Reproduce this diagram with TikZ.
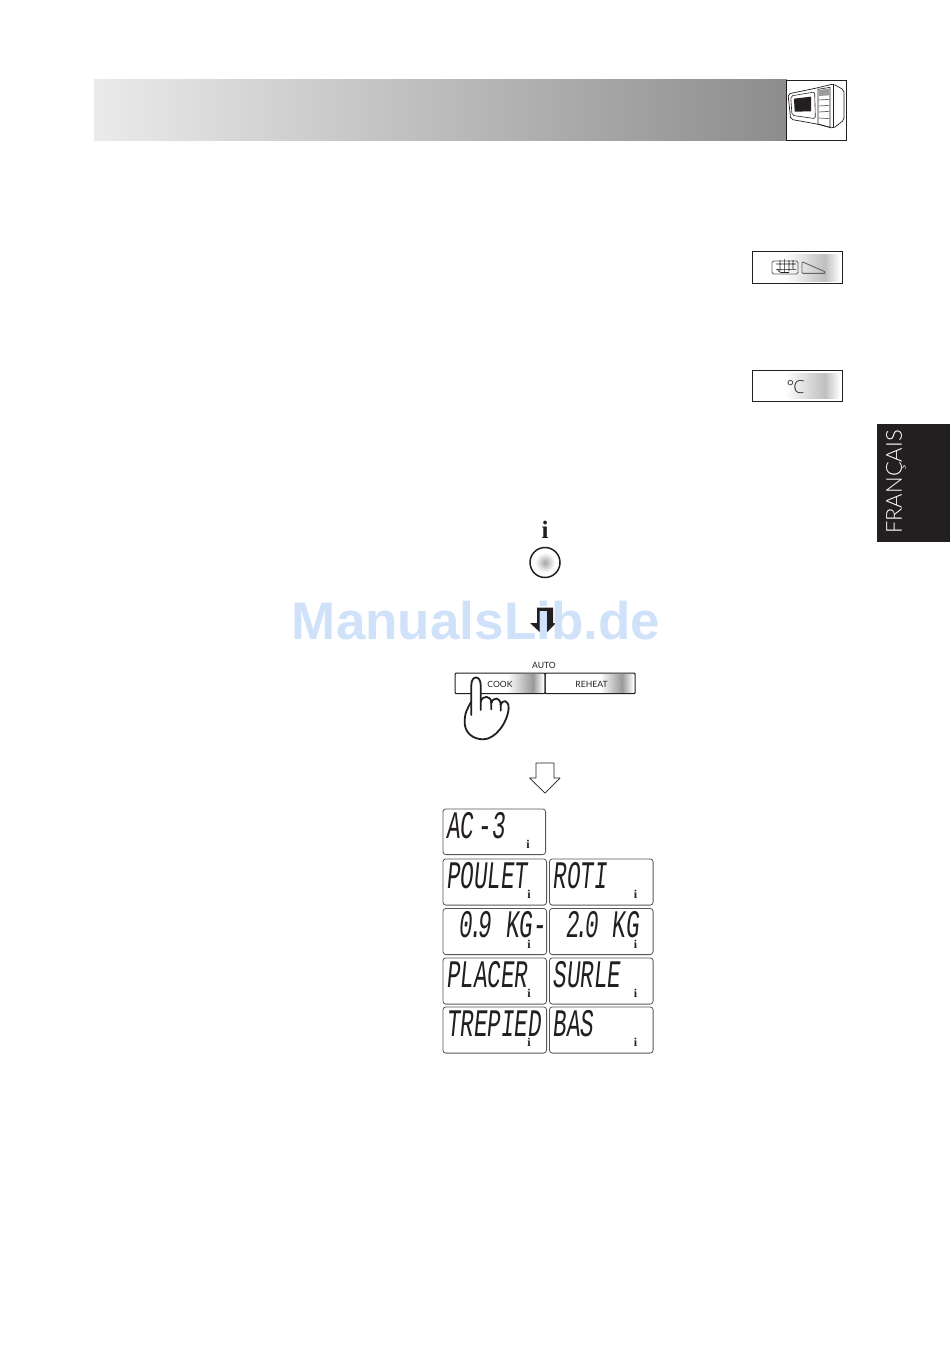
\documentclass[tikz,border=0pt]{standalone}
\usepackage{fontspec}
\setmainfont{Liberation Sans}
\newfontfamily\lcdfont{Liberation Mono}
\newfontfamily\capsfont{Lato}
\newfontfamily\thinfont{Open Sans Light}
\newfontfamily\langfont{Lato Light}
\newfontfamily\infofont{Liberation Serif}
\usetikzlibrary{calc}
\definecolor{inkk}{HTML}{231F20}
\definecolor{wm}{HTML}{CFE2FA}
\tikzset{
  panelbox/.style={draw=inkk,line width=0.9pt,fill=white},
  lcdbox/.style={draw=inkk!75,line width=0.8pt,rounded corners=3pt,fill=white},
  lcdtext/.style={font=\lcdfont\fontsize{39}{39}\selectfont,text=inkk,anchor=base west,inner sep=0pt,
     cm={0.58,0,0.1,1,(0,0)}},
  infoglyph/.style={font=\infofont\bfseries\fontsize{12}{12}\selectfont,text=inkk,inner sep=0pt},
  btnlabel/.style={font=\capsfont\fontsize{8.6}{9}\selectfont,text=inkk,inner sep=0pt},
  thinline/.style={draw=inkk,line width=0.7pt,line join=round},
  handline/.style={draw=inkk,line width=1.8pt,line cap=round,line join=round},
  keybox/.style={draw=inkk,line width=1.2pt,rounded corners=1pt,inner sep=0pt,minimum height=20.5pt,anchor=north west},
  zoomA/.style={shift={(770,70)},x=0.3333pt,y=-0.3333pt},
  zoomB/.style={shift={(450,660)},x=0.3333pt,y=-0.3333pt}
}
\newcommand{\lcddot}{\kern-7pt.\kern-7pt}
\newcommand{\lcdpanel}[6]{% name,x0,y0,x1,y1,text
  \node[lcdbox,minimum width=#4pt-#2pt-0.8pt,minimum height=#5pt-#3pt-0.8pt,inner sep=0pt,anchor=north west] (#1) at (#2,#3) {};
  \node[lcdtext] (#1t) at ($(#2,#3)+(3.5,29.5)$) {#6};
  \node[infoglyph] (#1i) at ($(#4,#5)+(-18,-11)$) {i};
}
\begin{document}
\begin{tikzpicture}[x=1pt,y=-1pt]
\useasboundingbox (0,0) rectangle (950,1348);
\fill[white] (0,0) rectangle (950,1348);
% header band
\shade[left color=black!8,right color=black!45,shading angle=90] (94,80) rectangle (787,140.5);
\node[panelbox,minimum width=60pt,minimum height=60pt,inner sep=0pt,anchor=north west] (oven) at (786,80) {};
\begin{scope}[zoomA]
 \draw[inkk,line width=0.7pt,line join=round,rounded corners=2pt] (54,72) -- (140,54) -- (190,42) -- (222,60) -- (222,150) -- (190,175) -- (140,162) -- (62,148) -- cycle;
 \draw[inkk,line width=0.6pt] (190,42)--(190,175);
 \draw[inkk,line width=0.6pt] (144,58) -- (180,52) -- (180,172) -- (144,162) -- cycle;
 \fill[inkk!45] (147,60) -- (178,56) -- (178,76) -- (147,78) -- cycle;
 \draw[inkk!70,line width=0.7pt] (147,90)--(178,88) (147,108)--(178,106) (147,126)--(178,124) (147,144)--(178,146);
 \draw[inkk,line width=0.6pt,rounded corners=2pt] (62,78)--(134,66)--(136,146)--(66,136)--cycle;
 \fill[inkk] (72,86)--(123,80)--(123,124)--(74,125)--cycle;
\end{scope}
% side buttons
\node[panelbox,minimum width=90pt,minimum height=32pt,inner sep=0pt,anchor=north west] (rackbtn) at (752,251) {};
\shade[left color=white,right color=black!25] (785,254.5) rectangle (825,281);
\shade[left color=black!25,right color=white] (825,254.5) rectangle (840,281);
\draw[inkk!70,line width=0.9pt,rounded corners=1.5pt] (772,261) rectangle (798,274);
\draw[inkk,line width=0.6pt] (780,260)--(780,271) (784.3,259)--(784.3,272) (789,260)--(789,271) (793,260)--(793,269) (776,264)--(796,264) (776,269.3)--(796,269.3) (777.5,269.3) .. controls (779,272) .. (781,272.5) -- (789,272.5);
\draw[inkk!70,line width=0.9pt,rounded corners=1pt] (802,261.7) -- (825,271.7) -- (825,273.3) -- (802,273.3) -- cycle;
\node[panelbox,minimum width=90pt,minimum height=31pt,inner sep=0pt,anchor=north west] (tempbtn) at (752,370) {};
\shade[left color=white,right color=black!25] (785,373.5) rectangle (825,398);
\shade[left color=black!25,right color=white] (825,373.5) rectangle (840,398);
\node[font=\thinfont\fontsize{18}{18}\selectfont,text=inkk,inner sep=0pt] (deg) at (795.5,387) {°\kern-1ptC};
% language tab
\fill[inkk] (877,424) rectangle (950,542);
\node[rotate=90,font=\langfont\fontsize{22}{22}\selectfont,text=white,inner sep=0pt] (lang) at (896,482) {FRANÇAIS};
% info key
\node[font=\infofont\bfseries\fontsize{25}{25}\selectfont,text=inkk,inner sep=0pt] (infokey) at (545,530) {i};
\node[circle,draw=inkk,line width=1.5pt,minimum size=30pt,inner sep=0pt,fill=white] (keycirc) at (545,562.5) {};
\shade[inner color=black!35,outer color=white] (keycirc.center) circle[radius=10];
% black arrow
\fill[inkk] (537,607.5) -- (553,607.5) -- (553,623) -- (556,623) -- (543.5,635.5) -- (530,623) -- (537,623) -- cycle;
% watermark
\node[font=\bfseries\fontsize{53}{53}\selectfont,text=wm,inner sep=0pt] (mark) at (476,621) {ManualsLib.de};
% auto keys
\node[btnlabel] (autolab) at (544,665) {AUTO};
\node[keybox,minimum width=90pt] (cook) at (454.5,672.5) {};
\node[keybox,minimum width=90pt] (reheat) at (544.5,672.5) {};
\shade[left color=white,right color=black!40] (507,674) rectangle (533,692.5);
\shade[left color=black!40,right color=white] (533,674) rectangle (543.5,692.5);
\shade[left color=white,right color=black!40] (600,674) rectangle (622,692.5);
\shade[left color=black!40,right color=white] (622,674) rectangle (633.5,692.5);
\node[btnlabel] (cooklab) at (500,684) {COOK};
\node[btnlabel] (reheatlab) at (591.5,684) {REHEAT};
% hand
\begin{scope}[zoomB]
 \fill[white] (64,125) -- (64,75) .. controls (64,45) and (92,45) .. (92,75) -- (92,125)
   .. controls (98,105) and (124,105) .. (124,130) .. controls (128,110) and (152,110) .. (152,135)
   .. controls (156,118) and (176,118) .. (176,145) .. controls (172,190) and (135,238) .. (100,238)
   .. controls (70,238) and (46,220) .. (44,190) .. controls (43,160) and (52,145) .. (64,125) -- cycle;
 \draw[handline] (64,165) -- (64,75) .. controls (64,45) and (92,45) .. (92,75) -- (92,150);
 \draw[handline] (92,125) .. controls (98,105) and (124,105) .. (124,130) -- (124,148);
 \draw[handline] (124,130) .. controls (128,110) and (152,110) .. (152,135) -- (152,152);
 \draw[handline] (152,135) .. controls (156,118) and (176,118) .. (176,145) .. controls (172,190) and (135,238) .. (100,238)
   .. controls (70,238) and (46,220) .. (44,190) .. controls (43,160) and (52,145) .. (64,125);
\end{scope}
% hollow arrow
\draw[thinline] (536,763) -- (554,763) -- (554,778) -- (560,778) -- (545,793) -- (529.5,778) -- (536,778) -- cycle;
% LCD panels
\lcdpanel{pa}{442.5}{808.5}{546}{855}{AC\kern-8pt\ \kern-8pt-3}
\lcdpanel{pb}{442.5}{858.5}{547}{905.5}{POULET}
\lcdpanel{pc}{549}{858.5}{653.5}{905.5}{ROTI}
\lcdpanel{pd}{442.5}{908}{547}{955}{\hspace{22pt}0\lcddot9 KG-}
\lcdpanel{pe}{549}{908}{653.5}{955}{\hspace{22pt}2\lcddot0 KG}
\lcdpanel{pf}{442.5}{957.5}{547}{1004.5}{PLACER}
\lcdpanel{pg}{549}{957.5}{653.5}{1004.5}{SURLE}
\lcdpanel{ph}{442.5}{1006.5}{547}{1053.5}{TREPIED}
\lcdpanel{pi}{549}{1006.5}{653.5}{1053.5}{BAS}
\end{tikzpicture}
\end{document}
